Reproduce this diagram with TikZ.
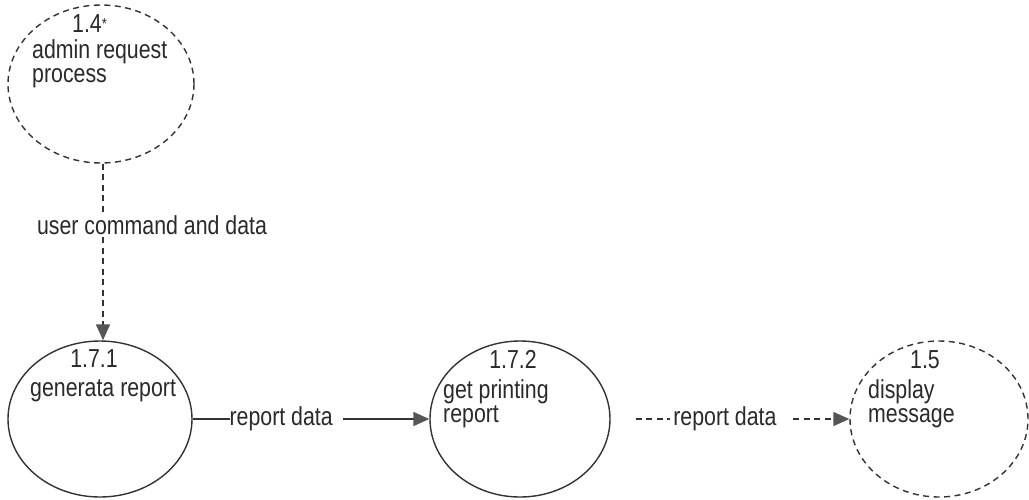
\documentclass[tikz,border=0pt]{standalone}
\usepackage{fontspec}
\setmainfont[FakeStretch=0.82]{Liberation Sans}
\usetikzlibrary{shapes.geometric,arrows.meta}
\definecolor{ink}{HTML}{333333}
\definecolor{txtc}{HTML}{2A2A2A}
\definecolor{tipc}{HTML}{555555}
\begin{document}
\begin{tikzpicture}[x=1pt,y=-1pt,
  txt/.style={font=\fontsize{26}{26}\selectfont, text=txtc, inner sep=0pt},
  procnode/.style={ellipse, draw=ink, line width=1.4pt, inner sep=0pt},
  dashproc/.style={procnode, dash pattern=on 6pt off 4.5pt},
  flow/.style={draw=ink, line width=1.4pt, -{Triangle[length=16pt,width=14pt,color=tipc,fill=tipc]}},
  dashflow/.style={flow, dash pattern=on 6pt off 4.5pt},
  lbl/.style={txt, fill=white}]
\path[use as bounding box, fill=white] (0,0) rectangle (1029,499);

% processes
\node[dashproc, minimum width=186pt, minimum height=158pt] (p14) at (101,84) {};
\node[procnode, minimum width=184pt, minimum height=156pt] (p171) at (100,419) {};
\node[procnode, minimum width=180pt, minimum height=156pt] (p172) at (520,419) {};
\node[dashproc, minimum width=178pt, minimum height=156pt] (p15) at (939,419) {};

% texts inside processes
\node[txt, anchor=base west] (t14n) at (72,32) {1.4\raisebox{3pt}{\fontsize{16}{16}\selectfont *}};
\node[txt, anchor=base west] (t14a) at (32,58) {admin request};
\node[txt, anchor=base west] (t14b) at (32,82) {process};

\node[txt, anchor=base] (t171n) at (94,367) {1.7.1};
\node[txt, anchor=base west] (t171a) at (30,396) {generata report};

\node[txt, anchor=base] (t172n) at (513,368) {1.7.2};
\node[txt, anchor=base west] (t172a) at (443,398) {get printing};
\node[txt, anchor=base west] (t172b) at (443,422) {report};

\node[txt, anchor=base] (t15n) at (925,368) {1.5};
\node[txt, anchor=base west] (t15a) at (868,398) {display};
\node[txt, anchor=base west] (t15b) at (868,422) {message};

% flows
\draw[dashflow] ([xshift=2pt]p14.south) -- node[lbl, pos=0.35, xshift=49pt, inner ysep=2pt] (l1) {user command and data} ([xshift=3pt]p171.north);
\draw[flow] (p171.east) -- node[lbl, pos=0.395] (l2) {report data\kern10pt\relax} (p172.west);
\draw[dashflow] ([xshift=25pt]p172.east) -- node[lbl, pos=0.441] (l3) {\kern3pt report data\kern13pt\relax} (p15.west);
\end{tikzpicture}
\end{document}
